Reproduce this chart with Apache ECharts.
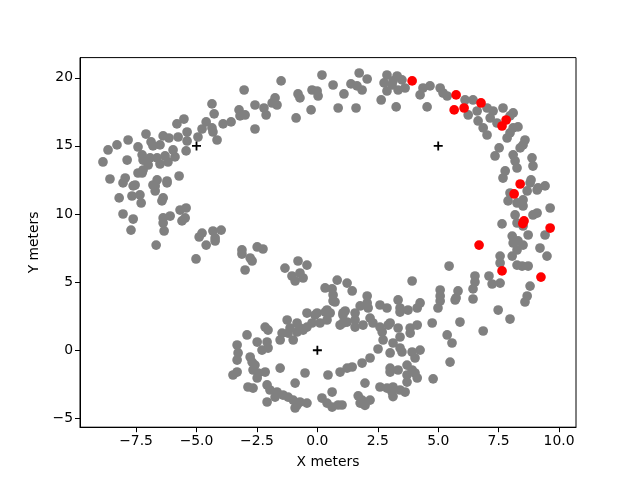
<!DOCTYPE html>
<html>
<head>
<meta charset="utf-8">
<script src="https://cdn.jsdelivr.net/npm/echarts@6/dist/echarts.min.js"></script>
<style>html,body{margin:0;padding:0;background:#fff}#c{width:640px;height:480px}</style>
</head>
<body>
<div id="c"></div>
<script>
const xTicks = [-7.5, -5, -2.5, 0, 2.5, 5, 7.5, 10];
const yTicks = [-5, 0, 5, 10, 15, 20];
const xLabel = 'X meters';
const yLabel = 'Y meters';

const grayPoints = [
[-3.03,19.10],[-4.36,18.08],[-4.27,17.35],[-3.24,17.64],[-3.20,17.20],[-3.90,16.61],[-3.57,16.76],[-4.60,16.76],[-4.77,16.24],[-4.36,16.32],
[-4.32,16.02],[-4.15,15.43],[-5.52,16.97],[-5.81,16.61],[-5.39,16.02],[-4.94,15.65],[-7.09,15.87],[-6.38,15.73],[-6.14,15.58],[-5.76,15.65],
[-6.88,15.29],[-6.80,15.00],[-7.83,15.43],[-8.29,15.07],[-8.66,14.70],[-7.42,14.92],[-6.51,15.07],[-5.39,15.36],[-5.43,14.63],[-5.97,14.70],
[-6.30,14.26],[-6.63,14.12],[-6.92,14.12],[-7.25,14.34],[-7.21,13.96],[-7.87,13.96],[-8.87,13.82],[-5.89,14.19],[-6.18,13.82],[-6.51,13.67],
[-7.00,13.60],[-7.21,13.23],[-7.42,13.01],[-7.25,13.01],[-5.72,12.79],[-6.22,12.42],[-6.63,12.50],[-6.80,12.13],[-8.58,12.57],[-7.95,12.64],
[-8.04,12.28],[-7.54,12.13],[-7.62,12.06],[-6.71,12.06],[-6.71,11.69],[-6.22,12.28],[-8.20,11.18],[-7.67,11.32],[-7.34,11.40],[-7.29,10.81],
[-6.38,11.18],[-6.43,10.96],[-8.04,10.00],[-7.62,9.63],[-6.38,9.71],[-6.09,9.85],[-6.38,9.34],[-5.68,10.29],[-5.43,10.44],[-5.47,9.71],
[-5.60,9.49],[-7.71,8.82],[-6.34,8.75],[-6.67,7.72],[-4.77,8.60],[-4.89,8.31],[-4.32,8.75],[-3.98,8.82],[-4.23,8.24],[-4.23,8.02],
[-4.60,7.72],[-5.02,6.70],[-3.12,7.36],[-3.12,7.06],[-2.99,5.89],[-2.78,6.77],
[-1.50,19.77],[0.19,20.20],[0.65,19.47],[1.73,20.35],[2.06,19.91],[1.39,19.55],[1.64,19.40],[1.85,19.10],[1.10,18.81],[-0.22,19.10],
[-0.01,19.03],[0.03,18.66],[-0.80,18.81],[-0.72,18.52],[-1.75,18.52],[-1.67,18.00],[-1.87,18.15],[-2.58,18.00],[-2.21,17.78],[-2.12,17.27],
[-0.26,17.64],[0.86,17.78],[1.60,17.78],[-0.88,17.05],[-2.58,16.24],[-2.99,17.27],[2.64,18.37],[3.26,17.86],[2.88,20.20],[3.30,20.13],
[3.50,19.84],[2.76,19.62],[3.09,19.47],[2.88,19.03],[3.34,19.10],[3.63,19.25],[3.13,19.77],
[4.37,19.25],[4.25,18.74],[4.66,19.40],[5.08,19.25],[5.20,18.88],[5.37,18.66],[4.54,17.86],[6.11,18.37],[6.44,18.37],[6.24,17.27],
[6.61,17.56],[7.02,17.78],[7.27,17.56],[7.68,17.78],[7.15,17.05],[6.65,16.83],[6.86,16.32],[7.43,16.68],[7.02,15.80],[7.97,17.20],
[8.10,16.32],[8.30,16.39],[7.85,15.58],[7.97,15.95],[8.10,17.42],[8.59,15.43],[8.51,15.07],[8.39,14.85],[7.52,14.85],[7.35,14.26],
[8.10,14.34],[8.18,13.89],[8.26,13.38],[8.88,14.12],[8.92,13.52],[7.77,13.16],[7.68,12.64],[8.84,12.50],[9.42,12.06],[9.13,11.91],
[8.80,12.28],[9.09,11.76],[8.68,11.69],[8.51,11.03],[8.26,10.81],[7.97,11.54],[7.89,10.96],[8.51,10.59],[9.63,10.44],[9.09,10.07],
[8.92,9.93],[8.18,9.93],[8.26,9.34],[7.64,9.27],[8.72,8.46],[8.51,9.12],[8.06,8.38],[8.10,7.87],[8.30,8.02],[8.51,7.72],
[8.26,7.36],[9.42,8.46],[9.21,7.50],[9.50,6.91],[7.56,6.91],[7.56,6.40],[8.06,6.91],[8.26,6.25],[8.47,6.18],[8.72,6.18],
[5.45,6.18],[6.52,5.45],[6.52,5.01],[6.44,4.50],[6.44,3.76],[7.10,5.45],[7.23,4.86],[7.56,4.93],[8.80,4.71],[8.68,3.98],
[8.59,3.54],[5.82,4.35],[5.74,3.83],[5.08,4.42],[5.08,3.98],[5.08,3.61],[4.99,3.10],[4.25,3.47],[4.13,3.10],[3.92,5.08],
[7.48,2.95],[7.97,2.29],[6.86,1.41],
[-2.49,7.58],[-2.25,7.43],[-2.70,6.55],[-1.34,6.03],[-0.80,6.55],[-0.43,6.25],[-0.72,5.67],[-1.05,5.45],[-0.92,5.08],[-0.59,5.30],
[0.32,4.57],[0.82,5.15],[1.23,4.93],[1.44,4.35],[0.65,4.05],[0.65,3.61],[0.61,4.50],[2.06,3.98],[1.77,3.25],[2.10,3.10],
[2.59,3.32],[2.88,3.10],[3.34,3.69],[3.42,3.10],[3.75,2.95],[-0.43,2.73],[-0.01,2.73],[0.40,2.95],[1.15,2.88],[1.56,2.73],
[0.73,3.54],[-0.10,2.58],[0.32,2.80],[0.53,2.73],[0.40,2.22],[0.11,2.00],[-0.22,2.00],[-0.43,1.70],[-0.72,1.63],[-0.84,2.00],
[-1.25,2.22],[-1.13,1.63],[-1.21,1.26],[-1.46,1.26],[-1.54,0.75],[-1.00,0.75],[-0.84,1.34],[-0.59,1.48],[1.06,2.58],[0.94,1.85],
[1.23,2.07],[-2.16,1.70],[-2.04,1.48],[-2.91,1.12],[-2.49,0.60],[-2.08,0.60],[-2.04,0.16],[-2.29,0.01],[-3.32,0.38],[-3.28,-0.20],
[-3.32,-0.72],[-2.78,-0.50],[-2.70,-0.87],[-2.58,-1.09],[-2.66,-1.45],[-2.45,-1.67],[-2.49,-2.04],[-2.16,-1.60],[-3.49,-1.82],[-3.32,-1.60],
[-2.87,-2.70],[-2.66,-2.78],[-1.54,-1.31],[-2.08,-2.55],[-1.96,-2.92],[-1.67,-3.07],[-1.75,-3.44],[-2.08,-3.80],[-1.42,-3.29],[-1.21,-3.44],
[-1.00,-3.66],[-0.84,-4.02],[-0.72,-3.80],[-0.43,-3.88],[-0.92,-4.24],[-0.51,-1.67],[-0.92,-2.41],[0.44,-1.82],[0.94,-1.60],[1.23,-1.31],
[0.61,-3.07],[0.19,-3.51],[0.40,-3.88],[0.61,-4.17],[0.86,-4.02],[2.18,-3.66],[4.79,-2.10],
[2.06,3.47],[3.42,2.80],[5.70,3.69],[1.06,2.73],[1.06,2.00],[1.56,2.22],[1.56,1.70],[1.89,1.85],[2.18,2.36],[2.30,2.00],
[2.59,1.70],[2.68,1.34],[2.93,1.85],[3.01,2.00],[3.34,1.63],[3.42,0.97],[3.84,1.63],[3.84,1.26],[4.13,1.85],[4.75,2.00],
[5.90,2.07],[5.37,1.12],[5.57,0.53],[2.72,0.75],[3.13,0.53],[3.42,0.16],[3.50,-0.13],[3.01,-0.20],[2.51,0.09],[3.92,-0.13],
[4.25,0.01],[4.04,-0.57],[5.49,-0.87],[2.18,-0.57],[1.85,-0.94],[1.44,-1.23],[3.01,-1.31],[3.34,-1.45],[3.71,-1.09],[3.92,-1.45],
[4.04,-1.67],[4.13,-2.04],[3.71,-1.82],[3.01,-1.60],[1.97,-2.41],[2.59,-2.70],[2.88,-2.78],[3.13,-2.70],[3.42,-2.92],[3.71,-2.34],
[3.63,-3.07],[3.13,-3.40],[3.09,-3.07],[1.69,-3.35],[1.85,-3.66],[1.97,-4.05],[1.77,-3.88],[1.02,-4.02]
];

const redPoints = [
[3.92,19.77],[5.74,18.74],[5.66,17.64],[6.07,17.78],[6.77,18.15],[7.81,16.90],[7.64,16.46],[8.39,12.20],
[8.14,11.47],[8.55,9.49],[8.50,9.30],[9.63,8.97],[6.69,7.72],[7.64,5.82],[9.25,5.37]
];

const centerPoints = [[-5,15],[5,15],[0,0]];

const fmtMinus = v => String(v).replace('-', '\u2212');
const chart = echarts.init(document.getElementById('c'), null, {renderer: 'canvas'});
chart.setOption({
  animation: false,
  backgroundColor: '#fff',
  grid: {left: 80, right: 64, top: 57.6, bottom: 52.8, show: true, borderColor: '#000', borderWidth: 1, backgroundColor: 'transparent'},
  xAxis: {
    type: 'value', min: -9.82, max: 10.70,
    name: xLabel, nameLocation: 'middle', nameGap: 28,
    nameTextStyle: {fontFamily: 'DejaVu Sans', fontSize: 13.9, color: '#000'},
    axisLine: {show: true, onZero: false, lineStyle: {color: '#000', width: 1}},
    axisTick: {show: true, inside: false, length: 5, lineStyle: {color: '#000', width: 1}, customValues: xTicks},
    axisLabel: {fontFamily: 'DejaVu Sans', fontSize: 13.9, color: '#000', margin: 7, customValues: xTicks,
      formatter: v => fmtMinus(Number(v).toFixed(1))},
    splitLine: {show: false}
  },
  yAxis: {
    type: 'value', min: -5.65, max: 21.48,
    name: yLabel, nameLocation: 'middle', nameGap: 38, nameRotate: 90,
    nameTextStyle: {fontFamily: 'DejaVu Sans', fontSize: 13.9, color: '#000'},
    axisLine: {show: true, onZero: false, lineStyle: {color: '#000', width: 1}},
    axisTick: {show: true, inside: false, length: 5, lineStyle: {color: '#000', width: 1}, customValues: yTicks},
    axisLabel: {fontFamily: 'DejaVu Sans', fontSize: 13.9, color: '#000', margin: 7, customValues: yTicks,
      formatter: v => fmtMinus(Math.round(v))},
    splitLine: {show: false}
  },
  series: [
    {type: 'scatter', data: grayPoints, symbolSize: 9.7, itemStyle: {color: '#808080', opacity: 1}, z: 2},
    {type: 'scatter', data: redPoints, symbolSize: 9.7, itemStyle: {color: '#ff0000', opacity: 1}, z: 3},
    {type: 'scatter', data: centerPoints, symbol: 'path://M-1,-5H1V-1H5V1H1V5H-1V1H-5V-1H-1Z',
      symbolSize: 9, itemStyle: {color: '#000', opacity: 1}, z: 4}
  ]
});
</script>
</body>
</html>
